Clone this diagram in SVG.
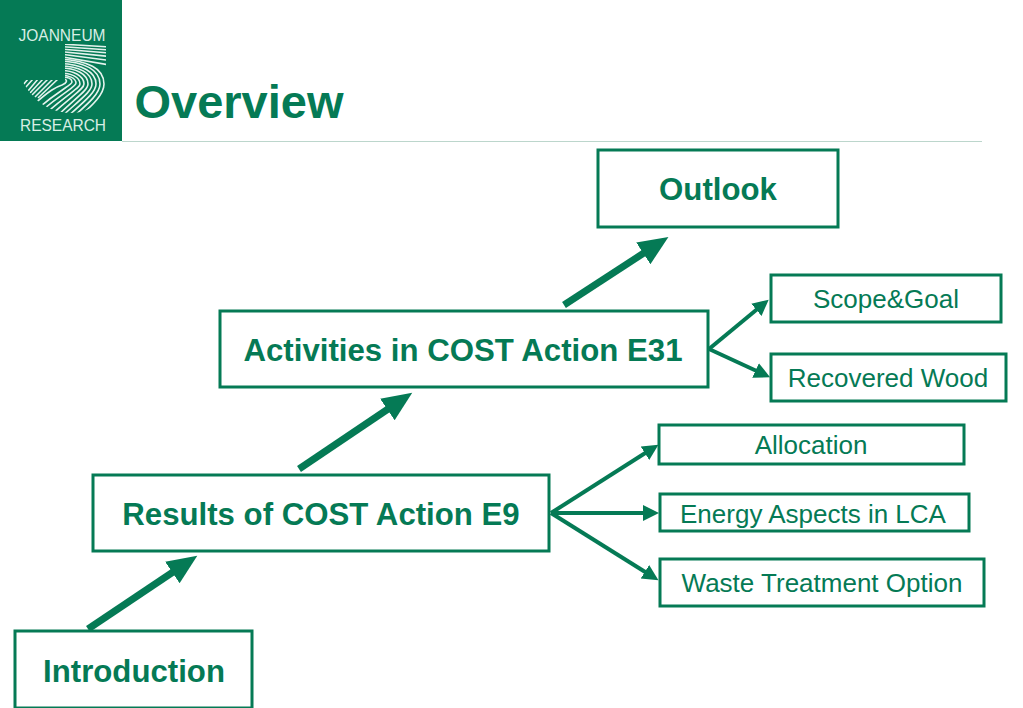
<svg xmlns="http://www.w3.org/2000/svg" width="1023" height="708" viewBox="0 0 1023 708">
<style>
text{font-family:"Liberation Sans",Arial,sans-serif;fill:#057a55;text-anchor:middle}
.big{font-size:31.2px;font-weight:700}
.small{font-size:26px}
.box{fill:#fff;stroke:#057a55;stroke-width:3}
.thick{stroke:#057a55;stroke-width:7;fill:none;marker-end:url(#ah)}
.thin{stroke:#057a55;stroke-width:4;fill:none;marker-end:url(#as)}
.st{stroke:#e4f3ed;stroke-width:1.9;fill:none}
.logo{fill:#d8eee5;text-anchor:middle;font-size:16px}
</style>
<defs>
<marker id="ah" markerUnits="userSpaceOnUse" markerWidth="34" markerHeight="30" refX="8" refY="13" orient="auto"><path d="M0 0L30 13L0 26Z" fill="#057a55"/></marker>
<marker id="as" markerUnits="userSpaceOnUse" markerWidth="20" markerHeight="18" refX="6" refY="8" orient="auto"><path d="M0 0L16 8L0 16Z" fill="#057a55"/></marker>
<clipPath id="j"><path d="M65 44H106V84C105 100 92 113 70 113C48 112 32 100 22 80H65Z"/></clipPath>
</defs>
<g id="logo">
<rect x="0" y="0" width="122" height="141" fill="#057a55"/>
<text class="logo" x="62" y="41" textLength="87" lengthAdjust="spacingAndGlyphs">JOANNEUM</text>
<text class="logo" x="63" y="131" textLength="86" lengthAdjust="spacingAndGlyphs">RESEARCH</text>
<g clip-path="url(#j)" class="st" style="stroke-width:1.6">
<path d="M60 44L110 47M60 46.500L110 50M60 49L110 53M60 51.500L110 56.500M60 54L110 60.500M60 56.500L110 65"/>
<path d="M60 59C88 61 104 68 104 84C104 94 94 104 78 118"/>
<path d="M60 61C85 62 100 70 100 84C100 93 90 102 72 118"/>
<path d="M60 63.500C82 64 96 72 96 84C96 92 86 100 66 118"/>
<path d="M60 66C79 66 92 73 92 84C92 91 82 98 60 118"/>
<path d="M60 68C76 68 88 74 88 84C88 90 78 96 55 118"/>
<path d="M60 70.500C73 70 84 76 84 84C84 89 74 94 50 116"/>
<path d="M60 73C71 73 80 77 80 84C80 88 70 92 45 114"/>
<path d="M60 75C68 75 76 78 76 83C76 87 66 90 40 112"/>
<path d="M61 77C68 77 72 79 72 82C72 85 62 88 36 110"/>
<path d="M64 79C68 80 67 83 62 85C56 87 50 90 32 106"/>
<path d="M58 79L38 98M53 79L35 97M48 79L32 95M43 79L30 93M38 79L28 91M33 79L25 88M28 79L23 85"/>
</g>
</g>
<text x="239" y="118" style="font-size:47px;font-weight:700">Overview</text>
<line x1="122" y1="141.500" x2="982" y2="141.500" stroke="#bcd6cc" stroke-width="1"/>
<g id="connectors">
<line class="thick" x1="564" y1="305" x2="650" y2="249"/>
<line class="thick" x1="299" y1="469" x2="394" y2="405"/>
<line class="thick" x1="88" y1="629" x2="179" y2="568"/>
<line class="thin" x1="709" y1="349" x2="761" y2="306"/>
<line class="thin" x1="709" y1="349" x2="761" y2="373"/>
<line class="thin" x1="551" y1="513" x2="650" y2="450"/>
<line class="thin" x1="551" y1="513" x2="649" y2="513"/>
<line class="thin" x1="551" y1="513" x2="650" y2="575"/>
</g>
<g id="outlook"><rect class="box" x="598" y="150" width="240" height="77"/><text class="big" x="718" y="200">Outlook</text></g>
<g id="activities"><rect class="box" x="220" y="311" width="488" height="76"/><text class="big" x="463" y="361">Activities in COST Action E31</text></g>
<g id="results"><rect class="box" x="93" y="475" width="456" height="76"/><text class="big" x="321" y="525">Results of COST Action E9</text></g>
<g id="introduction"><rect class="box" x="15" y="631" width="237" height="77"/><text class="big" x="134" y="682">Introduction</text></g>
<g id="scope"><rect class="box" x="771" y="275" width="230" height="47"/><text class="small" x="886" y="308">Scope&amp;Goal</text></g>
<g id="wood"><rect class="box" x="771" y="354" width="235" height="47"/><text class="small" x="888" y="387">Recovered Wood</text></g>
<g id="allocation"><rect class="box" x="659" y="425" width="305" height="39"/><text class="small" x="811" y="454">Allocation</text></g>
<g id="energy"><rect class="box" x="660" y="494" width="309" height="37"/><text class="small" x="813" y="523">Energy Aspects in LCA</text></g>
<g id="waste"><rect class="box" x="660" y="559" width="324" height="47"/><text class="small" x="822" y="592">Waste Treatment Option</text></g>
</svg>
